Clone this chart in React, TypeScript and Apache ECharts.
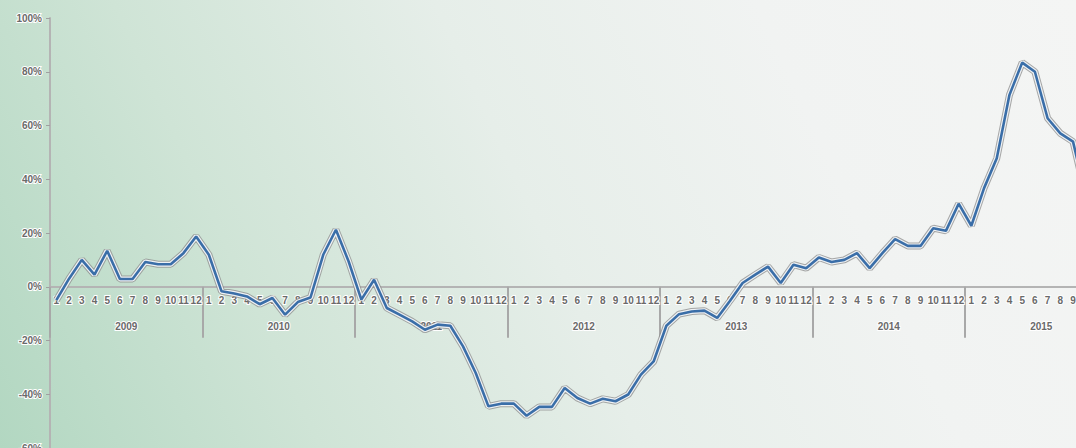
import React, { useEffect, useRef } from 'react';
import * as echarts from 'echarts';

const years = ['2009', '2010', '2011', '2012', '2013', '2014', '2015'];
const months = ['1', '2', '3', '4', '5', '6', '7', '8', '9', '10', '11', '12'];

const values2009 = [-5, 3, 10, 4.5, 13.4, 2.9, 2.9, 9.2, 8.4, 8.4, 12.5, 18.7];
const values2010 = [11.9, -1.7, -2.5, -3.6, -6.5, -4.2, -10.4, -5.7, -4.0, 11.9, 21.2, 9.4];
const values2011 = [-4.8, 2.6, -7.9, -10.4, -12.9, -16, -14.1, -14.5, -22.2, -32.1, -44.5, -43.5];
const values2012 = [-43.5, -48, -44.7, -44.7, -37.7, -41.4, -43.5, -41.7, -42.6, -40.1, -32.7, -27.8];
const values2013 = [-14.5, -10.2, -9.2, -8.9, -11.6, -5.3, 1.4, 4.5, 7.5, 1.4, 8.2, 6.9];
const values2014 = [10.9, 9.2, 10.0, 12.5, 6.9, 12.5, 17.7, 15.2, 15.2, 21.8, 20.8, 30.9];
const values2015 = [22.7, 36.7, 47.8, 71.4, 83.4, 80.0, 62.7, 57.1, 54.0, 34, null, null];

const yMin = -60;
const yMax = 100;
const yStep = 20;

const CHART_W = 1130;
const CHART_H = 448;
const GRID_TOP = 18;
const GRID_BOTTOM = 0;

export default function App() {
  const ref = useRef<HTMLDivElement>(null);

  useEffect(() => {
    document.body.style.margin = '0';
    const chart = echarts.init(ref.current!, null, { renderer: 'svg' });

    const categories = years.flatMap((y) => months.map((m) => `${y}-${m}`));
    const values = [
      ...values2009, ...values2010, ...values2011, ...values2012,
      ...values2013, ...values2014, ...values2015,
    ];

    // place the category axes on the zero line of the value axis
    const gridH = CHART_H - GRID_TOP - GRID_BOTTOM;
    const zeroFromBottom = ((0 - yMin) / (yMax - yMin)) * gridH;
    const zeroFromTop = ((yMax - 0) / (yMax - yMin)) * gridH;

    const labelStyle = {
      color: '#6a6a6a',
      fontSize: 10,
      fontWeight: 'bold' as const,
      fontFamily: 'Liberation Sans, Arial, sans-serif',
      textBorderColor: '#ffffff',
      textBorderWidth: 2,
    };

    const lineBase = {
      type: 'line' as const,
      data: values,
      xAxisIndex: 0,
      yAxisIndex: 0,
      symbol: 'none',
      silent: true,
      connectNulls: false,
    };

    chart.setOption({
      animation: false,
      grid: {
        left: 50,
        right: CHART_W - 1117.5,
        top: GRID_TOP,
        bottom: GRID_BOTTOM,
        containLabel: false,
        outerBoundsMode: 'none',
      },
      xAxis: [
        {
          type: 'category',
          data: categories,
          position: 'bottom',
          offset: -zeroFromBottom,
          axisLine: { onZero: false, lineStyle: { color: '#b4b4b4', width: 2 } },
          axisTick: { show: false },
          axisLabel: {
            ...labelStyle,
            interval: 0,
            hideOverlap: false,
            margin: 9,
            formatter: (v: string) => v.split('-')[1],
          },
          splitLine: { show: false },
        },
        {
          type: 'category',
          data: years,
          position: 'top',
          offset: -zeroFromTop,
          axisLine: { show: false, onZero: false },
          axisTick: {
            show: true,
            inside: true,
            length: 51,
            interval: 0,
            lineStyle: { color: '#a8a8a8', width: 2 },
          },
          axisLabel: { ...labelStyle, inside: true, interval: 0, margin: 35 },
          splitLine: { show: false },
        },
      ],
      yAxis: [
        {
          type: 'value',
          min: yMin,
          max: yMax,
          interval: yStep,
          axisLine: { show: true, lineStyle: { color: '#b4b4b4', width: 2 } },
          axisTick: { show: true, length: 4, lineStyle: { color: '#a0a0a0' } },
          axisLabel: { ...labelStyle, margin: 8, formatter: (v: number) => `${v}%` },
          splitLine: { show: false },
        },
      ],
      series: [
        { ...lineBase, name: 'halo-outer', z: 2, lineStyle: { color: 'rgba(140,140,140,0.75)', width: 7 } },
        { ...lineBase, name: 'halo-inner', z: 3, lineStyle: { color: '#eef1f4', width: 5 } },
        { ...lineBase, name: 'growth', z: 4, lineStyle: { color: '#3a6ea8', width: 2.6 } },
      ],
    });

    return () => chart.dispose();
  }, []);

  return (
    <div
      style={{
        position: 'fixed',
        left: 0,
        top: 0,
        width: 1076,
        height: 448,
        overflow: 'hidden',
        background:
          'linear-gradient(65deg, #b2d7c1 0%, #cfe4d6 25%, #e6eee9 50%, #f1f3f2 75%, #f4f5f4 100%)',
      }}
    >
      <div ref={ref} style={{ width: CHART_W, height: CHART_H }} />
    </div>
  );
}
